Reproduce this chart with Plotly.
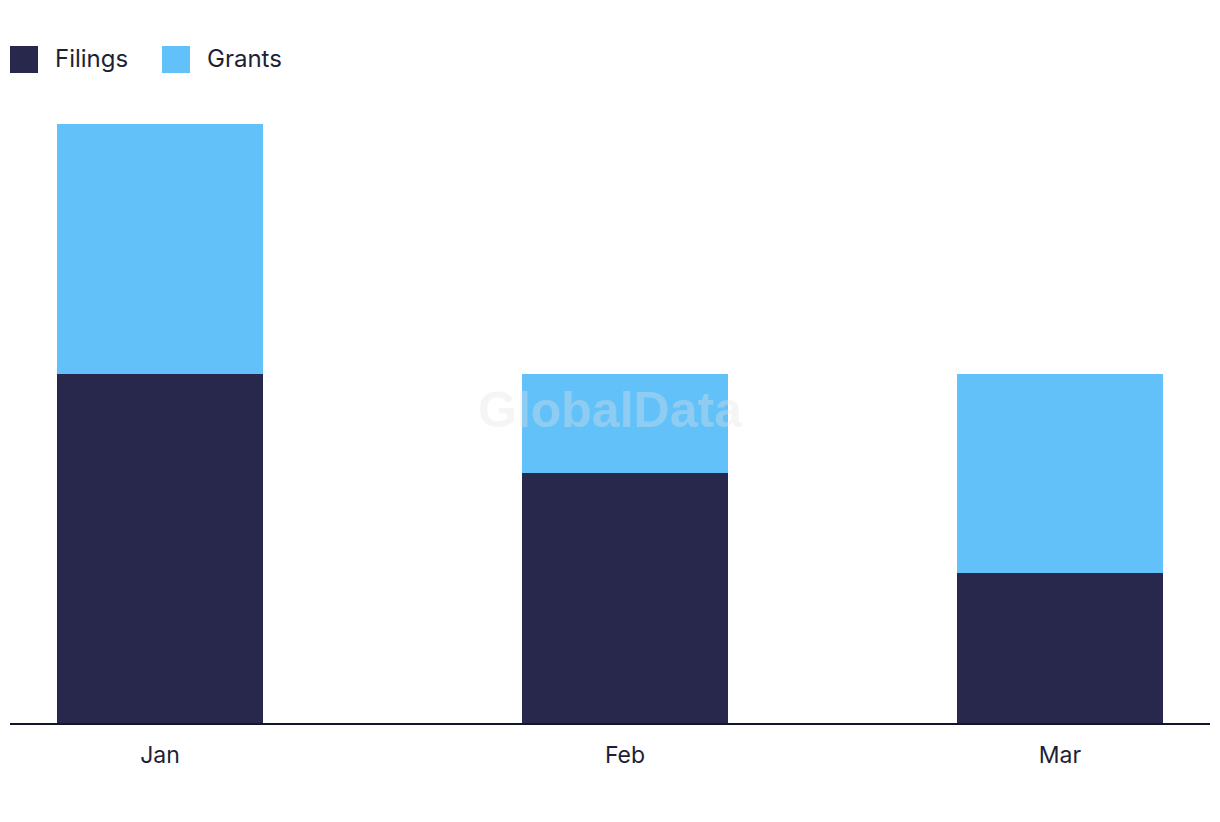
import plotly.graph_objects as go

months = ["2024-01-01", "2024-02-01", "2024-03-01"]
month_labels = ["Jan", "Feb", "Mar"]
series_names = ["Filings", "Grants"]
filings = [7, 5, 3]
grants = [5, 2, 4]
colors = ["#27284b", "#62c1f9"]

FONT = "Inter"
TEXT = "#1e1f36"
bar_w = 13.73 * 86400000

fig = go.Figure()
for name, vals, col in zip(series_names, [filings, grants], colors):
    fig.add_trace(go.Bar(x=months, y=vals, name=name, marker_color=col,
                         marker_line_width=0, width=bar_w, showlegend=False))

# custom legend (positions relative to plot area: left edge at page x=10, axis at page y=723)
for i, (name, col) in enumerate(zip(series_names, colors)):
    x0 = [10, 162][i]
    fig.add_shape(type="rect", xref="paper", yref="paper",
                  x0=(x0 - 10) / 1200, x1=(x0 + 28 - 10) / 1200,
                  y0=(723 - 73) / 599, y1=(723 - 46) / 599,
                  fillcolor=col, line_width=0)
    fig.add_annotation(xref="paper", yref="paper", x=(x0 + 43 - 10) / 1200,
                       y=(723 - 58) / 599, text=name, showarrow=False,
                       xanchor="left", yanchor="middle",
                       font=dict(family=FONT, size=24, color=TEXT))

fig.add_annotation(xref="paper", yref="paper", x=0.5, y=(723 - 410) / 599,
                   text="<b>GlobalData</b>", showarrow=False,
                   font=dict(family="Liberation Sans", size=50,
                             color="rgba(225,225,225,0.35)"))

fig.update_layout(
    barmode="stack",
    width=1220, height=822,
    margin=dict(l=2, r=18, t=116, b=107),
    plot_bgcolor="white", paper_bgcolor="white",
    font=dict(family=FONT, size=23, color=TEXT),
    xaxis=dict(type="date", range=["2023-12-22", "2024-03-11"],
               tickvals=months, ticktext=month_labels,
               showgrid=False, zeroline=False, showline=True,
               linecolor="#14142a", linewidth=2, ticks="",
               ticklabelstandoff=10),
    yaxis=dict(range=[0, 12], visible=False, showgrid=False),
)

fig.write_html("out.html")
